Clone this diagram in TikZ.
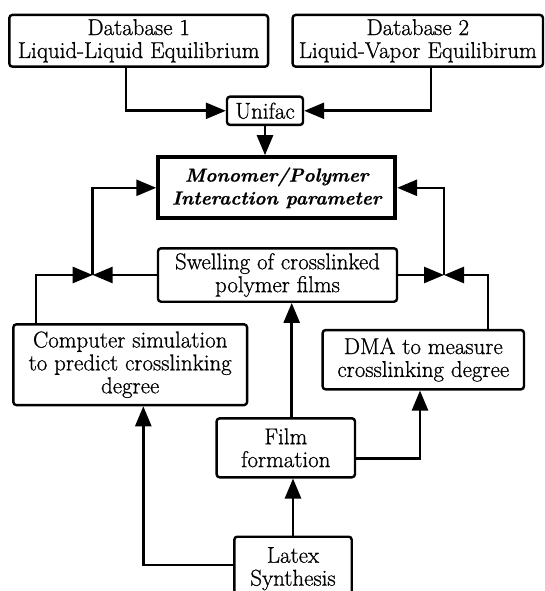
\documentclass[tikz,border=0pt]{standalone}
\usepackage{fontspec}
\setmainfont{Latin Modern Roman}
\newfontface\heavy{Latin Modern Roman}[FakeBold=0.8]
\newfontfamily\heavybi{Latin Modern Roman}[BoldItalicFeatures={FakeBold=0.8}]
\usetikzlibrary{arrows.meta}
\begin{document}
\begin{tikzpicture}[x=1bp,y=-1bp,
  box/.style={draw,line width=2.4bp,rounded corners=3bp,inner sep=0pt,align=center,
    font=\heavy\fontsize{23}{23}\selectfont},
  arr/.style={line width=2.6bp,-{Triangle[length=20bp,width=16bp]}}]
\useasboundingbox[fill=white] (0,0) rectangle (545,591);
\node[box,minimum width=258.7bp,minimum height=51.7bp] (db1) at (138.7,40.8) {Database 1\\Liquid-Liquid Equilibrium};
\node[box,minimum width=250.3bp,minimum height=51.7bp] (db2) at (417.8,40.8) {Database 2\\Liquid-Vapor Equilibirum};
\node[box,minimum width=76bp,minimum height=28.3bp] (unifac) at (265,110.8) {Unifac};
\node[box,line width=4.2bp,rounded corners=0pt,minimum width=236.7bp,minimum height=61bp,
  font=\heavybi\bfseries\itshape\fontsize{19}{23}\selectfont] (mono) at (276.7,187.8) {Monomer/Polymer\\Interaction parameter};
\node[box,minimum width=239bp,minimum height=53.4bp] (swell) at (277.5,275) {Swelling of crosslinked\\polymer films};
\node[box,minimum width=233.7bp,minimum height=80.7bp] (comp) at (130.2,364.7) {Computer simulation\\to predict crosslinking\\degree};
\node[box,minimum width=201.3bp,minimum height=59.3bp] (dma) at (423.3,359.7) {DMA to measure\\crosslinking degree};
\node[box,minimum width=138.3bp,minimum height=59bp] (film) at (285.8,447.8) {Film\\formation};
\node[box,minimum width=117.4bp,minimum height=64bp] (latex) at (293,568.7) {Latex\\Synthesis};
\coordinate (jl) at (92.7,275);
\coordinate (jr) at (444,275);
\draw[arr] ([xshift=-12.7bp]db1.south) |- (unifac.west);
\draw[arr] ([xshift=13.2bp]db2.south) |- (unifac.east);
\draw[arr] (unifac.south) -- (unifac.south |- mono.north);
\draw[arr] ([xshift=-94.2bp]comp.north) |- (jl);
\draw[arr] (swell.west) -- (jl);
\draw[arr] (jl) |- (mono.west);
\draw[arr] (swell.east) -- (jr);
\draw[arr] ([xshift=64.7bp]dma.north) |- (jr);
\draw[arr] (jr) |- (mono.east);
\draw[arr] ([xshift=5.9bp]film.north) -- ([xshift=5.9bp]film.north |- swell.south);
\draw[arr] ([yshift=-10.5bp]film.east) -| ([xshift=-3.3bp]dma.south);
\draw[arr] (latex.north) -- (latex.north |- film.south);
\draw[arr] ([yshift=3.7bp]latex.west) -| ([xshift=13.1bp]comp.south);
\end{tikzpicture}
\end{document}
